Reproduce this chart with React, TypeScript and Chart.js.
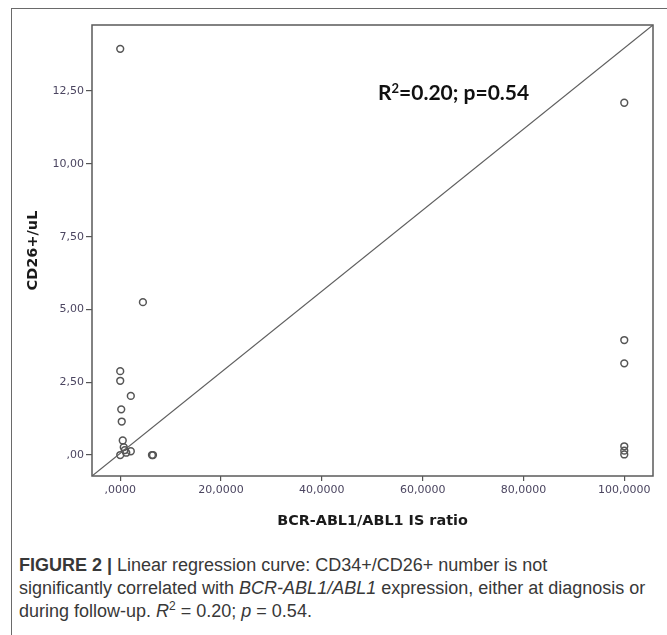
import React, { useEffect, useRef } from "react";
import { Chart, registerables } from "chart.js";

Chart.register(...registerables);

// ---- data ----
const xValues = [0, 4.5, 0, 0, 2.1, 0.2, 0.3, 0.5, 0.7, 0.9, 1.2, 2.1, 0, 6.3, 6.5, 100, 100, 100, 100, 100, 100];
const yValues = [13.95, 5.25, 2.88, 2.55, 2.03, 1.57, 1.15, 0.5, 0.27, 0.17, 0.08, 0.13, 0.0, 0.0, 0.0, 12.1, 3.95, 3.15, 0.3, 0.15, 0.02];
const xTickValues = [0, 20, 40, 60, 80, 100];
const xTickLabels = [",0000", "20,0000", "40,0000", "60,0000", "80,0000", "100,0000"];
const yTickValues = [0, 2.5, 5, 7.5, 10, 12.5];
const yTickLabels = [",00", "2,50", "5,00", "7,50", "10,00", "12,50"];
const xRange = [-5.6, 105.7];
const yRange = [-0.72, 14.77];
const xTitle = "BCR-ABL1/ABL1 IS ratio";
const yTitle = "CD26+/uL";

const boxPlugin = {
  id: "boxPlugin",
  beforeDatasetsDraw(chart: any) {
    const { ctx, chartArea } = chart;
    ctx.save();
    ctx.strokeStyle = "#5a5a5a";
    ctx.lineWidth = 1.5;
    ctx.strokeRect(chartArea.left, chartArea.top, chartArea.right - chartArea.left, chartArea.bottom - chartArea.top);
    ctx.restore();
  },
};

export default function App() {
  const ref = useRef<HTMLCanvasElement | null>(null);

  useEffect(() => {
    if (!ref.current) return;
    const points = xValues.map((x, i) => ({ x, y: yValues[i] }));
    const chart = new Chart(ref.current, {
      type: "scatter",
      data: {
        datasets: [
          {
            type: "line",
            data: [
              { x: xRange[0], y: yRange[0] },
              { x: xRange[1], y: yRange[1] },
            ],
            borderColor: "#5f5f5f",
            borderWidth: 1.2,
            pointRadius: 0,
            fill: false,
          } as any,
          {
            data: points,
            pointRadius: 3.4,
            pointBorderWidth: 1.5,
            pointBorderColor: "#555555",
            pointBackgroundColor: "rgba(0,0,0,0)",
            borderColor: "#555555",
            backgroundColor: "rgba(0,0,0,0)",
          },
        ],
      },
      options: {
        animation: false,
        responsive: false,
        maintainAspectRatio: false,
        layout: { padding: { left: 0, top: 25, right: 14, bottom: 0 } },
        plugins: { legend: { display: false }, tooltip: { enabled: false } },
        scales: {
          x: {
            type: "linear",
            min: xRange[0],
            max: xRange[1],
            afterFit(scale: any) {
              scale.height = 64;
            },
            afterBuildTicks(scale: any) {
              scale.ticks = xTickValues.map((v) => ({ value: v }));
            },
            border: { display: false },
            grid: { drawOnChartArea: false, drawTicks: true, tickLength: 5, color: "#555555", lineWidth: 1.2 },
            ticks: {
              autoSkip: false,
              maxRotation: 0,
              padding: 3,
              color: "#4b4560",
              font: { family: "DejaVu Sans", size: 11 },
              callback: (v: any) => {
                const i = xTickValues.indexOf(Number(v));
                return i >= 0 ? xTickLabels[i] : "";
              },
            },
            title: {
              display: true,
              text: xTitle,
              color: "#1a1a1a",
              font: { family: "DejaVu Sans", size: 14.4, weight: "bold" },
              padding: { top: 0, bottom: 10 },
            },
          },
          y: {
            type: "linear",
            min: yRange[0],
            max: yRange[1],
            afterFit(scale: any) {
              scale.width = 92;
            },
            afterBuildTicks(scale: any) {
              scale.ticks = yTickValues.map((v) => ({ value: v }));
            },
            border: { display: false },
            grid: { drawOnChartArea: false, drawTicks: true, tickLength: 6, color: "#555555", lineWidth: 1.2 },
            ticks: {
              autoSkip: false,
              padding: 2,
              color: "#4b4560",
              font: { family: "DejaVu Sans", size: 11 },
              callback: (v: any) => {
                const i = yTickValues.indexOf(Number(v));
                return i >= 0 ? yTickLabels[i] : "";
              },
            },
            title: {
              display: true,
              text: yTitle,
              color: "#1a1a1a",
              font: { family: "DejaVu Sans", size: 14.5, weight: "bold" },
              padding: { top: 25, bottom: 0 },
            },
          },
        },
      },
      plugins: [boxPlugin],
    });
    return () => chart.destroy();
  }, []);

  const lineStyle: React.CSSProperties = { whiteSpace: "nowrap" };

  return (
    <div
      style={{
        position: "absolute",
        left: 0,
        top: 0,
        width: 667,
        height: 635,
        background: "#ffffff",
        overflow: "hidden",
      }}
    >
      <div
        style={{
          position: "absolute",
          left: 11,
          top: 8,
          width: 700,
          height: 700,
          borderLeft: "1.5px solid #6a6a6a",
          borderTop: "1.5px solid #6a6a6a",
        }}
      />
      <canvas ref={ref} width={667} height={540} style={{ position: "absolute", left: 0, top: 0, width: 667, height: 540 }} />
      <div
        style={{
          position: "absolute",
          left: 378,
          top: 80,
          fontFamily: "Lato",
          fontWeight: 700,
          fontSize: 21,
          color: "#111",
          whiteSpace: "nowrap",
          lineHeight: "24px",
        }}
      >
        R<sup style={{ fontSize: 13, lineHeight: 0, verticalAlign: "7px" }}>2</sup>=0.20; p=0.54
      </div>
      <div
        style={{
          position: "absolute",
          left: 19,
          top: 554,
          fontFamily: "Liberation Sans",
          fontSize: 18,
          lineHeight: "23px",
          color: "#383838",
        }}
      >
        <div style={lineStyle}>
          <b>FIGURE 2 |</b> Linear regression curve: CD34+/CD26+ number is not
        </div>
        <div style={lineStyle}>
          significantly correlated with <i>BCR-ABL1/ABL1</i> expression, either at diagnosis or
        </div>
        <div style={lineStyle}>
          during follow-up. <i>R</i>
          <sup style={{ fontSize: 12, lineHeight: 0 }}>2</sup> = 0.20; <i>p</i> = 0.54.
        </div>
      </div>
    </div>
  );
}
